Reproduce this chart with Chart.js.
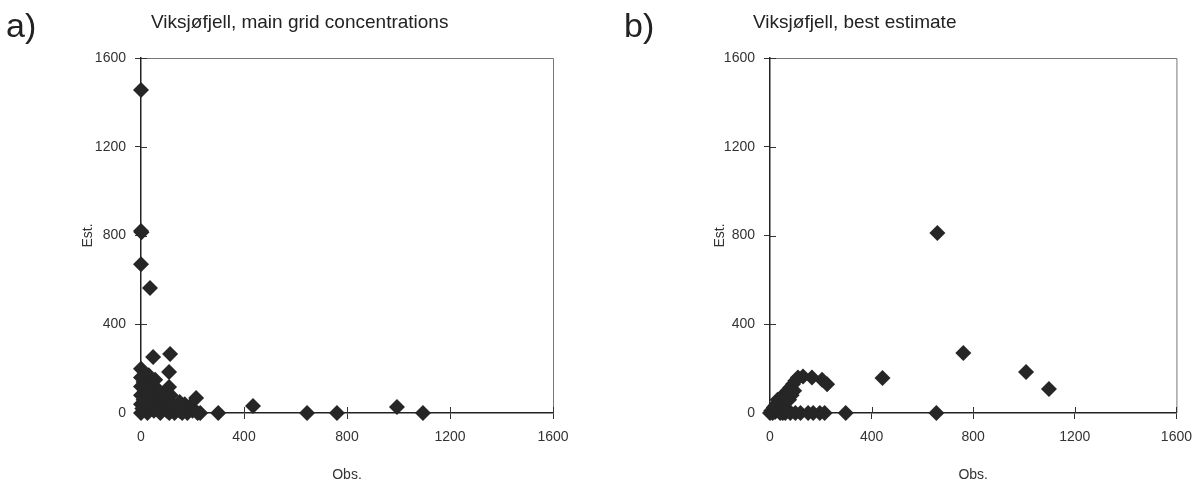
<!DOCTYPE html>
<html>
<head>
<meta charset="utf-8">
<script src="https://cdn.jsdelivr.net/npm/chart.js@4/dist/chart.umd.min.js"></script>
<style>
  body { margin: 0; background: #fff; width: 1202px; height: 496px; position: relative; overflow: hidden; font-family: "Liberation Sans", Arial, sans-serif; }
  .panel { position: absolute; top: 0; }
  .lbl { position: absolute; color: #222; white-space: nowrap; }
  .big { font-size: 34px; top: 6px; }
  .ttl { font-size: 19px; top: 11px; }
</style>
</head>
<body>
<div class="panel" style="left:0"><canvas id="chartA" width="600" height="496"></canvas></div>
<div class="panel" style="left:600px"><canvas id="chartB" width="602" height="496"></canvas></div>
<div class="lbl big" style="left:6px">a)</div>
<div class="lbl ttl" style="left:151px">Viksjøfjell, main grid concentrations</div>
<div class="lbl big" style="left:624px">b)</div>
<div class="lbl ttl" style="left:753px">Viksjøfjell, best estimate</div>
<script>
// ticks
var axisTicks = [0, 400, 800, 1200, 1600];

// a) main grid concentrations
var obsA = [0, 0, 2, 0, 35, 47, 113,
  0, 0, 0, 0, 0, 0, 5, 10, 15, 20, 25, 30, 35, 40, 45, 50, 55, 60, 70, 75, 80, 90, 100,
  10, 20, 30, 40, 60, 70, 80, 90, 100, 110, 130, 150, 170, 180, 230,
  109, 109, 115, 120, 130, 140, 150, 160, 175, 190, 200, 214, 220,
  300, 435, 645, 761, 994, 1095];
var estA = [1456, 820, 815, 670, 563, 252, 266,
  200, 160, 120, 80, 40, 0, 20, 140, 100, 60, 0, 170, 30, 120, 80, 10, 150, 50, 100, 0, 30, 60, 10,
  60, 120, 90, 40, 20, 60, 80, 20, 40, 0, 30, 10, 40, 0, 0,
  185, 117, 80, 40, 0, 20, 50, 0, 15, 30, 10, 68, 0,
  0, 32, 0, 0, 27, 0];

// b) best estimate
var obsB = [0, 5, 10, 15, 20, 25, 30, 35, 40, 45, 50, 55, 60, 65, 70, 75, 80, 85, 90, 95, 100,
  20, 40, 50, 60, 30, 75,
  110, 130, 165, 205, 225,
  50, 60, 80, 100, 120, 150, 170, 196, 215,
  298, 443, 655, 659, 761, 1008, 1098];
var estB = [0, 10, 0, 25, 5, 40, 15, 55, 0, 30, 70, 45, 90, 20, 100, 60, 115, 80, 130, 100, 145,
  30, 50, 20, 70, 60, 90,
  160, 165, 160, 150, 130,
  0, 0, 0, 0, 0, 0, 0, 0, 0,
  0, 158, 0, 811, 270, 185, 108];

function toPoints(xs, ys) {
  return xs.map(function (x, i) { return { x: x, y: ys[i] }; });
}

// frame on top/right plus the inner half of the tick crosses
var framePlugin = {
  id: "frame",
  beforeDatasetsDraw: function (chart) {
    var ctx = chart.ctx, a = chart.chartArea;
    ctx.save();
    ctx.strokeStyle = "#777";
    ctx.lineWidth = 1;
    ctx.beginPath();
    ctx.moveTo(a.left, a.top + 0.5);
    ctx.lineTo(a.right + 0.5, a.top + 0.5);
    ctx.lineTo(a.right + 0.5, a.bottom);
    ctx.stroke();
    ctx.strokeStyle = "#333";
    ctx.beginPath();
    axisTicks.forEach(function (t) {
      var px = chart.scales.x.getPixelForValue(t);
      var py = chart.scales.y.getPixelForValue(t);
      ctx.moveTo(Math.round(px) + 0.5, a.bottom);
      ctx.lineTo(Math.round(px) + 0.5, a.bottom - 6);
      ctx.moveTo(a.left, Math.round(py) + 0.5);
      ctx.lineTo(a.left + 6, Math.round(py) + 0.5);
    });
    ctx.stroke();
    ctx.restore();
  }
};

function plain(v) { return String(v); }

function makeChart(id, data, plotLeft, plotRight, canvasWidth, titleLeft) {
  var ctx = document.getElementById(id).getContext("2d");
  return new Chart(ctx, {
    type: "scatter",
    data: {
      datasets: [{
        data: data,
        clip: false,
        pointStyle: "rectRot",
        pointRadius: 8,
        pointHoverRadius: 8,
        backgroundColor: "#262626",
        borderColor: "#262626",
        borderWidth: 0
      }]
    },
    options: {
      responsive: false,
      animation: false,
      layout: { padding: { left: titleLeft, right: canvasWidth - plotRight, top: 58, bottom: 8 } },
      plugins: { legend: { display: false }, tooltip: { enabled: false } },
      scales: {
        x: {
          type: "linear",
          min: 0, max: 1600,
          afterBuildTicks: function (s) { s.ticks = axisTicks.map(function (v) { return { value: v }; }); },
          afterFit: function (s) { s.height = 75; },
          grid: { drawOnChartArea: false, tickLength: 6, color: "#333" },
          border: { color: "#222", width: 1.5 },
          ticks: { color: "#333", font: { family: "Liberation Sans", size: 14 }, padding: 10, maxRotation: 0, callback: plain },
          title: { display: true, text: "Obs.", color: "#333", font: { family: "Liberation Sans", size: 14 }, padding: { top: 0, bottom: 4 } }
        },
        y: {
          type: "linear",
          min: 0, max: 1600,
          afterBuildTicks: function (s) { s.ticks = axisTicks.map(function (v) { return { value: v }; }); },
          afterFit: function (s) { s.width = plotLeft - titleLeft; },
          grid: { drawOnChartArea: false, tickLength: 6, color: "#333" },
          border: { color: "#222", width: 1.5 },
          ticks: { color: "#333", font: { family: "Liberation Sans", size: 14 }, padding: 9, callback: plain },
          title: { display: true, text: "Est.", color: "#333", font: { family: "Liberation Sans", size: 14 }, padding: 0 }
        }
      }
    },
    plugins: [framePlugin]
  });
}

var chartA = makeChart("chartA", toPoints(obsA, estA), 141, 553, 600, 80);
var chartB = makeChart("chartB", toPoints(obsB, estB), 170, 578, 602, 112);
</script>
</body>
</html>
